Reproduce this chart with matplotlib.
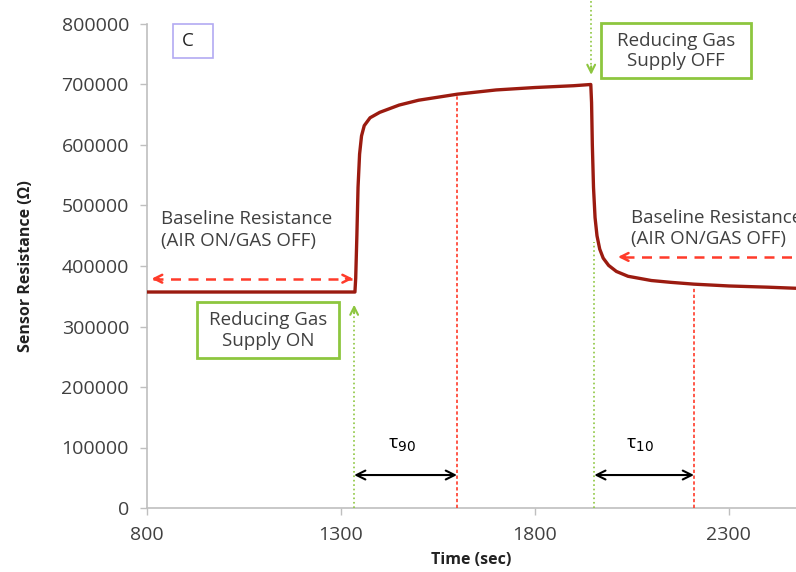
import matplotlib.pyplot as plt
from matplotlib.patches import Rectangle

plt.rcParams['font.family'] = ['Open Sans', 'DejaVu Sans']

# sensor response, time (sec) vs resistance (ohm)
time_s = [800, 1000, 1200, 1336, 1338, 1341, 1344, 1348, 1353, 1360, 1375, 1400,
          1450, 1500, 1600, 1700, 1800, 1900, 1944, 1946, 1948, 1951, 1955, 1960,
          1967, 1976, 1990, 2010, 2040, 2100, 2150, 2210, 2300, 2400, 2480]
resistance = [357000, 357000, 357000, 357000, 380000, 450000, 530000, 585000, 615000,
              632000, 645000, 654000, 666000, 674000, 684000, 691000, 695000, 698000,
              700000, 670000, 600000, 530000, 480000, 450000, 428000, 413000, 401000,
              391000, 383000, 376000, 373000, 370000, 367000, 365000, 363000]

t_gas_on = 1334
t_90 = 1599
t_gas_off = 1953
t_10 = 2210

x_ticks = [800, 1300, 1800, 2300]
y_ticks = [0, 100000, 200000, 300000, 400000, 500000, 600000, 700000, 800000]

text_col = '#404040'
green = '#8dc63f'
red = '#ff3b2a'
curve_col = '#9b1b10'

fig = plt.figure(figsize=(7.96, 5.72), dpi=100)
ax = fig.add_axes([147 / 796, 64 / 572, 649 / 796, 484 / 572])

ax.plot(time_s, resistance, color=curve_col, lw=2.4, solid_joinstyle='round', zorder=5)

ax.set_xlim(800, 2473)
ax.set_ylim(0, 800000)
ax.set_xticks(x_ticks)
ax.set_yticks(y_ticks)
ax.set_xticklabels([str(v) for v in x_ticks])
ax.set_yticklabels([str(v) for v in y_ticks])
ax.tick_params(colors='#bfbfbf', labelcolor=text_col, labelsize=14, length=5, width=1)
ax.tick_params(axis='y', pad=8)
ax.tick_params(axis='x', pad=8)
for s in ['top', 'right']:
    ax.spines[s].set_visible(False)
for s in ['left', 'bottom']:
    ax.spines[s].set_color('#bfbfbf')
    ax.spines[s].set_linewidth(1.2)

ax.set_xlabel('Time (sec)', fontsize=11.5, fontweight='bold', color='#222222', labelpad=6)
ax.set_ylabel('Sensor Resistance (Ω)', fontsize=11.5, fontweight='bold', color='#222222', labelpad=20)


def guide(x, y0, y1, col, style):
    ax.plot([x, x], [y0, y1], color=col, lw=1.2, ls=style, zorder=3, clip_on=False)


def head(xy, xytext, col, lw=1.5):
    ax.annotate('', xy=xy, xytext=xytext, annotation_clip=False,
                arrowprops=dict(arrowstyle='->', color=col, lw=lw,
                                mutation_scale=14, shrinkA=0, shrinkB=0))


# gas on / off guides
guide(t_gas_on, 0, 330000, green, ':')
head((t_gas_on, 336000), (t_gas_on, 322000), green)
guide(t_gas_off, 0, 440000, green, ':')
guide(1945, 725000, 840000, green, ':')
head((1945, 716000), (1945, 730000), green)

# response / recovery guides
guide(t_90, 0, 684000, red, (0, (2, 1.5)))
guide(t_10, 0, 364000, red, (0, (2, 1.5)))

# tau arrows
for a, b in [(t_gas_on, t_90), (t_gas_off, t_10)]:
    ax.annotate('', xy=(b, 54500), xytext=(a, 54500),
                arrowprops=dict(arrowstyle='<->', color='black', lw=1.5,
                                mutation_scale=16, shrinkA=0, shrinkB=0))
ax.text((t_gas_on + t_90) / 2 - 10, 104000, 'τ$_{90}$', ha='center', va='center',
        fontsize=14, color='black')
ax.text((t_gas_off + t_10) / 2 - 10, 104000, 'τ$_{10}$', ha='center', va='center',
        fontsize=14, color='black')

# baseline arrows
ax.plot([815, 1328], [379000, 379000], color=red, lw=1.8, ls=(0, (4, 3)), zorder=4)
head((812, 379000), (830, 379000), red, 1.8)
head((1331, 379000), (1313, 379000), red, 1.8)
ax.plot([2030, 2480], [415000, 415000], color=red, lw=1.8, ls=(0, (4, 3)), zorder=4)
head((2014, 415000), (2032, 415000), red, 1.8)

ax.text(835, 460000, 'Baseline Resistance\n(AIR ON/GAS OFF)', ha='left', va='center',
        fontsize=13.5, color=text_col, linespacing=1.3)
ax.text(2047, 462000, 'Baseline Resistance\n(AIR ON/GAS OFF)', ha='left', va='center',
        fontsize=13.5, color=text_col, linespacing=1.2, clip_on=False)

# boxed labels
ax.add_patch(Rectangle((929, 248000), 366, 92500, fill=False, ec=green, lw=2,
                       zorder=6))
ax.text(1112, 294000, 'Reducing Gas\nSupply ON', ha='center', va='center',
        fontsize=13.5, color=text_col, linespacing=1.2)
ax.add_patch(Rectangle((1970, 710700), 387, 91000, fill=False, ec=green, lw=2,
                       zorder=6, clip_on=False))
ax.text(2163, 756000, 'Reducing Gas\nSupply OFF', ha='center', va='center',
        fontsize=13.5, color=text_col, linespacing=1.15)
ax.add_patch(Rectangle((867, 744000), 103, 56000, fill=False, ec='#b3aaf2', lw=1.2,
                       zorder=6, clip_on=False))
ax.text(905, 772000, 'C', ha='center', va='center', fontsize=13.5, color='#222222')

fig.savefig('out.png', dpi=100)
